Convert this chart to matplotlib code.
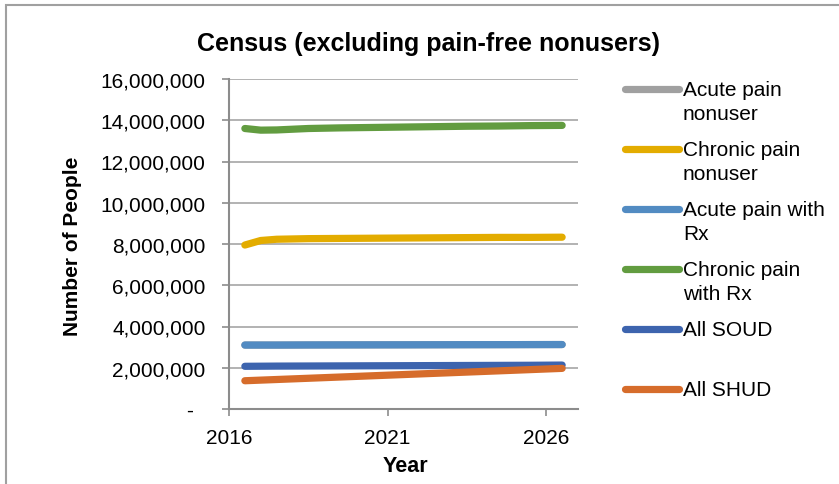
import matplotlib.pyplot as plt
import matplotlib.ticker as ticker
from matplotlib.lines import Line2D
from matplotlib.patches import Rectangle

plt.rcParams['font.family'] = ['Liberation Sans', 'DejaVu Sans']

# years (mid-year points), values in people
years = [2016.5, 2017.0, 2017.5, 2018.5, 2019.5, 2020.5, 2021.5, 2022.5, 2023.5, 2024.5, 2025.5, 2026.5]

acute_nonuser = [3100000, 3100000, 3100000, 3105000, 3108000, 3110000, 3112000, 3115000, 3118000, 3120000, 3123000, 3125000]
chronic_nonuser = [7950000, 8170000, 8230000, 8260000, 8270000, 8280000, 8290000, 8300000, 8310000, 8320000, 8320000, 8330000]
acute_rx = [3100000, 3100000, 3100000, 3105000, 3108000, 3110000, 3112000, 3115000, 3118000, 3120000, 3123000, 3125000]
chronic_rx = [13600000, 13520000, 13530000, 13600000, 13630000, 13650000, 13670000, 13690000, 13710000, 13720000, 13740000, 13750000]
all_soud = [2070000, 2075000, 2080000, 2085000, 2090000, 2095000, 2100000, 2105000, 2110000, 2115000, 2120000, 2130000]
all_shud = [1370000, 1400000, 1430000, 1490000, 1550000, 1610000, 1670000, 1730000, 1790000, 1850000, 1910000, 1970000]

series = [
    ("Acute pain\nnonuser", acute_nonuser, "#A0A0A0"),
    ("Chronic pain\nnonuser", chronic_nonuser, "#E3AC00"),
    ("Acute pain with\nRx", acute_rx, "#528BC2"),
    ("Chronic pain\nwith Rx", chronic_rx, "#629C40"),
    ("All SOUD", all_soud, "#3D64AE"),
    ("All SHUD", all_shud, "#D66C2B"),
]

W, H = 839, 485
fig = plt.figure(figsize=(W / 100, H / 100), dpi=100)
ax = fig.add_axes([229 / W, 1 - 410 / H, (578 - 229) / W, (410 - 80) / H])

for name, vals, col in series:
    ax.plot(years, vals, color=col, lw=5.2, solid_capstyle='round', solid_joinstyle='round')

ax.set_xlim(2016, 2027)
ax.set_ylim(0, 16000000)
ax.set_xticks([2016, 2021, 2026])
ax.set_yticks(range(0, 16000001, 2000000))
ax.yaxis.set_major_formatter(ticker.FuncFormatter(lambda v, p: '-  ' if v == 0 else f'{int(v):,}'))
ax.grid(axis='y', color='#A6A6A6', lw=1.2)
ax.set_axisbelow(True)
for s in ['top', 'right']:
    ax.spines[s].set_visible(False)
for s in ['left', 'bottom']:
    ax.spines[s].set_color('#8C8C8C')
    ax.spines[s].set_linewidth(1.5)
ax.tick_params(axis='both', colors='#8C8C8C', length=5, width=1.2, labelsize=15, labelcolor='black')
ax.tick_params(axis='y', pad=12)
ax.tick_params(axis='x', pad=9)

fig.text(428 / W, 1 - 44 / H, "Census (excluding pain-free nonusers)", ha='center', va='center',
         fontsize=18, fontweight='bold')
fig.text(405 / W, 1 - 467 / H, "Year", ha='center', va='center', fontsize=15.5, fontweight='bold')
fig.text(73 / W, 1 - 246 / H, "Number of People", ha='center', va='center', rotation=90,
         fontsize=15, fontweight='bold')

# legend drawn by hand so the handle sits on the first text line
for i, (name, vals, col) in enumerate(series):
    yy = 1 - (90 + 60 * i) / H
    fig.add_artist(Line2D([625 / W, 679 / W], [yy, yy], color=col, lw=5.2, solid_capstyle='round'))
    for j, part in enumerate(name.split('\n')):
        fig.text(683 / W, yy - 25 * j / H, part, ha='left', va='center', fontsize=15)

# chart area border
fig.add_artist(Rectangle((5.5 / W, -0.1), 1.2, 1 - 6 / H + 0.1, transform=fig.transFigure,
                         fill=False, edgecolor='#A0A0A0', lw=1.5))

fig.savefig('out.png', dpi=100)
